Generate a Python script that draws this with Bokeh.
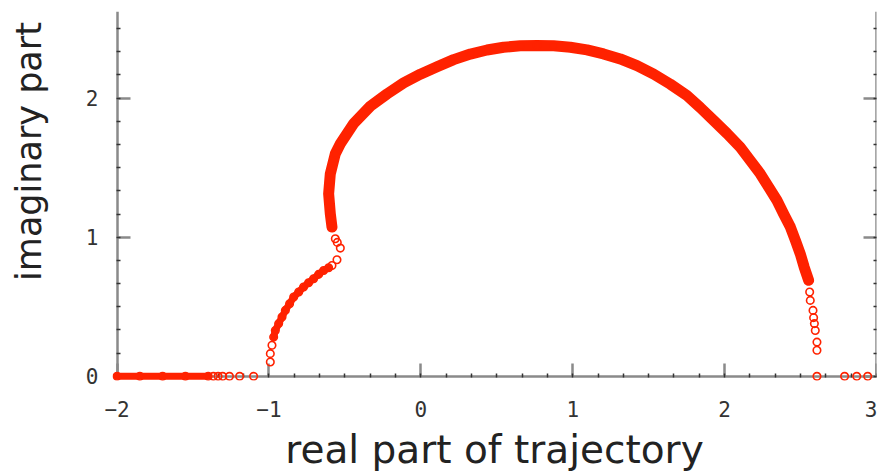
from bokeh.plotting import figure
from bokeh.models import LinearAxis, SingleIntervalTicker, Range1d
from bokeh.embed import file_html
from bokeh.resources import INLINE

# ---- data ----
# roots on the negative real axis (imaginary part 0)
left_real_x = [-2.0, -1.85, -1.70, -1.55, -1.40, -1.366, -1.335, -1.305, -1.26, -1.193, -1.101]
left_real_y = [0, 0, 0, 0, 0, 0, 0, 0, 0, 0, 0]
# lower branch leaving the real axis near -1
lower_x = [-0.991, -0.991, -0.980, -0.969, -0.958, -0.936, -0.914, -0.892, -0.864, -0.837,
           -0.804, -0.772, -0.739, -0.706, -0.673, -0.640, -0.607, -0.585, -0.552]
lower_y = [0.103, 0.163, 0.223, 0.282, 0.330, 0.379, 0.426, 0.474, 0.522, 0.570,
           0.606, 0.642, 0.673, 0.702, 0.733, 0.761, 0.781, 0.797, 0.838]
# big upper arc
upper_x = [-0.530, -0.550, -0.563, -0.585, -0.596, -0.607, -0.596, -0.563, -0.530, -0.442,
           -0.332, -0.223, -0.113, -0.003, 0.107, 0.216, 0.326, 0.436, 0.545, 0.655,
           0.765, 0.874, 0.984, 1.094, 1.203, 1.313, 1.423, 1.533, 1.642, 1.752,
           1.840, 1.928, 2.016, 2.103, 2.169, 2.235, 2.290, 2.345, 2.388, 2.433,
           2.466, 2.498, 2.524, 2.553, 2.560, 2.564, 2.582, 2.586, 2.591, 2.597,
           2.608, 2.608]
upper_y = [0.922, 0.963, 0.989, 1.073, 1.169, 1.313, 1.456, 1.600, 1.672, 1.818,
           1.943, 2.030, 2.110, 2.172, 2.226, 2.277, 2.317, 2.346, 2.366, 2.376,
           2.378, 2.376, 2.366, 2.347, 2.318, 2.282, 2.234, 2.173, 2.101, 2.019,
           1.932, 1.839, 1.746, 1.647, 1.552, 1.456, 1.360, 1.264, 1.169, 1.073,
           0.977, 0.881, 0.785, 0.690, 0.606, 0.546, 0.474, 0.422, 0.379, 0.330,
           0.246, 0.187]
# roots on the positive real axis
right_real_x = [2.608, 2.79, 2.87, 2.942]
right_real_y = [0, 0, 0, 0]

x_label = "real part of trajectory"
y_label = "imaginary part"

RED = "#ff2200"
AXIS = "#8a8a8a"

p = figure(width=877, height=474, x_range=Range1d(-2.03, 3.0), y_range=Range1d(-0.03, 2.623),
           output_backend="svg", toolbar_location=None,
           min_border_left=112, min_border_right=1, min_border_top=11, min_border_bottom=94)
p.grid.visible = False
p.outline_line_color = None
p.background_fill_color = "white"
p.border_fill_color = "white"


def line_axis(ax, bounds):
    ax.ticker = SingleIntervalTicker(interval=1, num_minor_ticks=6)
    ax.bounds = bounds
    ax.axis_line_color = AXIS
    ax.axis_line_width = 2.5
    ax.major_tick_line_color = AXIS
    ax.major_tick_line_width = 2.5
    ax.major_tick_in = 13
    ax.major_tick_out = 0
    ax.minor_tick_line_color = "#333333"
    ax.minor_tick_line_width = 1.5
    ax.minor_tick_in = 3
    ax.minor_tick_out = 1
    ax.major_label_text_color = None
    ax.major_label_text_font_size = "1px"
    ax.major_label_standoff = 0
    ax.level = "underlay"


def label_axis(ax, standoff):
    ax.ticker = SingleIntervalTicker(interval=1, num_minor_ticks=6)
    ax.axis_line_color = None
    ax.major_tick_line_color = None
    ax.minor_tick_line_color = None
    ax.major_tick_in = 0
    ax.major_tick_out = 0
    ax.major_label_text_font = "DejaVu Sans Mono"
    ax.major_label_text_font_size = "21px"
    ax.major_label_text_color = "#333333"
    ax.major_label_standoff = standoff
    ax.axis_label_text_font = "DejaVu Sans"
    ax.axis_label_text_font_style = "normal"
    ax.axis_label_text_color = "#222222"


# axes at the frame edges carry only the texts
xa = p.xaxis[0]
label_axis(xa, 16)
xa.axis_label = x_label
xa.axis_label_text_font_size = "39px"
xa.axis_label_standoff = 7

ya = p.yaxis[0]
label_axis(ya, 10)
ya.axis_label = "\u00a0" * 8 + y_label
ya.axis_label_text_font_size = "35px"
ya.axis_label_standoff = 34

# axes drawn at y = 0 and x = -2 (and mirrored at x = 3) carry lines and ticks
bx = LinearAxis()
line_axis(bx, (-2, 3))
bx.fixed_location = 0
p.add_layout(bx, "below")

lx = LinearAxis()
line_axis(lx, (0, 2.623))
lx.fixed_location = -2
p.add_layout(lx, "left")

rx = LinearAxis()
line_axis(rx, (0, 2.623))
p.add_layout(rx, "right")

# dense portions drawn as thick bands beneath the markers
p.line(left_real_x[:5], left_real_y[:5], line_color=RED, line_width=7, line_cap="round")
p.line(lower_x[3:17], lower_y[3:17], line_color=RED, line_width=7, line_cap="round", line_join="round")
p.line(upper_x[3:44], upper_y[3:44], line_color=RED, line_width=11, line_cap="round", line_join="round")

for xs, ys in [(left_real_x, left_real_y), (lower_x, lower_y), (upper_x, upper_y), (right_real_x, right_real_y)]:
    p.scatter(xs, ys, marker="circle", size=7.5, fill_color=None, line_color=RED, line_width=1.6)

open("out.html", "w").write(file_html(p, INLINE))
